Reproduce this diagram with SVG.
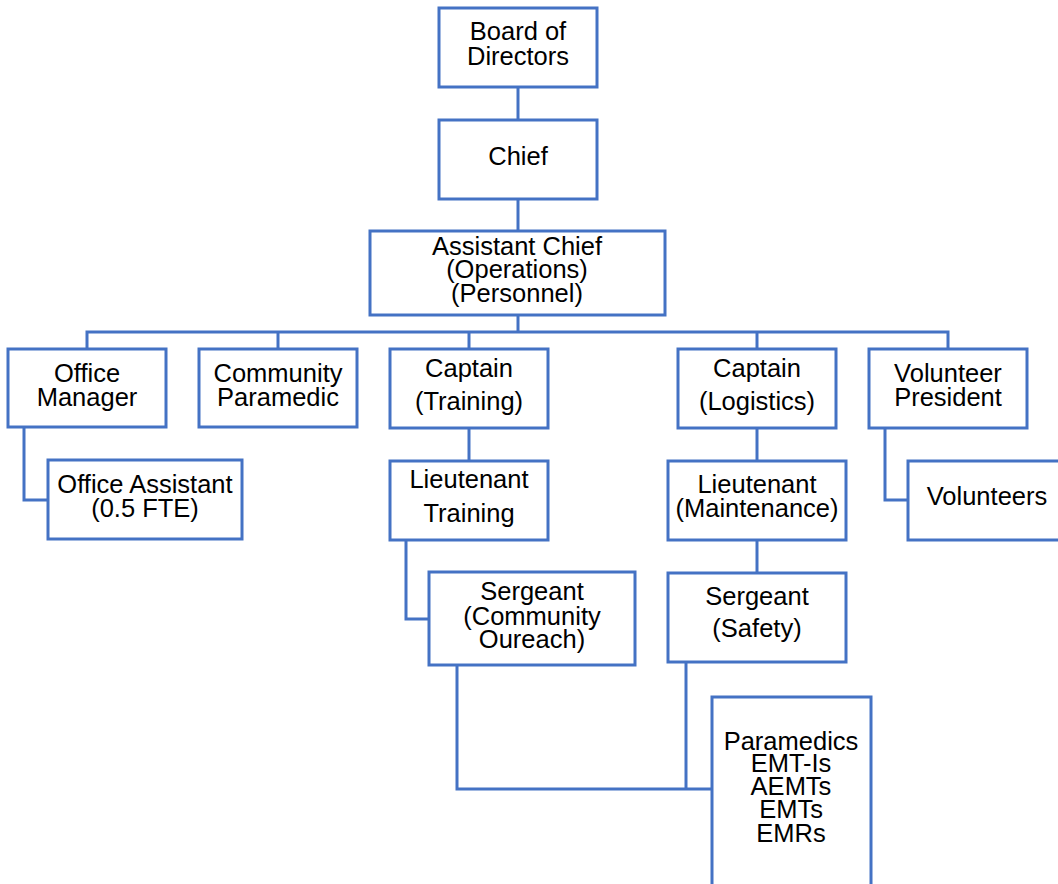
<svg xmlns="http://www.w3.org/2000/svg" width="1058" height="884" viewBox="0 0 1058 884">
<style>
.box{fill:#fff;stroke:#4472C4;stroke-width:3}
.ln{fill:none;stroke:#4472C4;stroke-width:3}
text{font-family:"Liberation Sans",Arial,Helvetica,sans-serif;font-size:25.5px;fill:#000;text-anchor:middle}
</style>
<rect width="1058" height="884" fill="#fff"/>
<g id="connectors">
<path class="ln" d="M518 87V120"/>
<path class="ln" d="M518 199V231"/>
<path class="ln" d="M518 315V332"/>
<path class="ln" d="M87 349V332H948V349"/>
<path class="ln" d="M278 332V349"/>
<path class="ln" d="M469 332V349"/>
<path class="ln" d="M757 332V349"/>
<path class="ln" d="M24 427V500H48"/>
<path class="ln" d="M469 428V461"/>
<path class="ln" d="M406 540V619H429"/>
<path class="ln" d="M757 428V461"/>
<path class="ln" d="M757 540V573"/>
<path class="ln" d="M885 428V500H908"/>
<path class="ln" d="M457 665V789H712"/>
<path class="ln" d="M686 662V789"/>
</g>
<g id="board"><rect class="box" x="439" y="8" width="158" height="79"/><text><tspan x="518" y="40">Board of</tspan><tspan x="518" y="65">Directors</tspan></text></g>
<g id="chief"><rect class="box" x="439" y="120" width="158" height="79"/><text x="518" y="165">Chief</text></g>
<g id="assistant-chief"><rect class="box" x="370" y="231" width="295" height="84"/><text><tspan x="517" y="255">Assistant Chief</tspan><tspan x="517" y="278">(Operations)</tspan><tspan x="517" y="302">(Personnel)</tspan></text></g>
<g id="office-manager"><rect class="box" x="8" y="349" width="158" height="78"/><text><tspan x="87" y="382">Office</tspan><tspan x="87" y="406">Manager</tspan></text></g>
<g id="community-paramedic"><rect class="box" x="199" y="349" width="158" height="78"/><text><tspan x="278" y="382">Community</tspan><tspan x="278" y="406">Paramedic</tspan></text></g>
<g id="office-assistant"><rect class="box" x="48" y="460" width="194" height="79"/><text><tspan x="145" y="493">Office Assistant</tspan><tspan x="145" y="517">(0.5 FTE)</tspan></text></g>
<g id="captain-training"><rect class="box" x="390" y="349" width="158" height="79"/><text><tspan x="469" y="377">Captain</tspan><tspan x="469" y="410">(Training)</tspan></text></g>
<g id="lieutenant-training"><rect class="box" x="390" y="461" width="158" height="79"/><text><tspan x="469" y="488">Lieutenant</tspan><tspan x="469" y="522">Training</tspan></text></g>
<g id="sergeant-community"><rect class="box" x="429" y="572" width="206" height="93"/><text><tspan x="532" y="600">Sergeant</tspan><tspan x="532" y="625">(Community</tspan><tspan x="532" y="648">Oureach)</tspan></text></g>
<g id="captain-logistics"><rect class="box" x="678" y="349" width="158" height="79"/><text><tspan x="757" y="377">Captain</tspan><tspan x="757" y="410">(Logistics)</tspan></text></g>
<g id="lieutenant-maintenance"><rect class="box" x="668" y="461" width="178" height="79"/><text><tspan x="757" y="493">Lieutenant</tspan><tspan x="757" y="517">(Maintenance)</tspan></text></g>
<g id="sergeant-safety"><rect class="box" x="668" y="573" width="178" height="89"/><text><tspan x="757" y="605">Sergeant</tspan><tspan x="757" y="637">(Safety)</tspan></text></g>
<g id="volunteer-president"><rect class="box" x="869" y="349" width="158" height="79"/><text><tspan x="948" y="382">Volunteer</tspan><tspan x="948" y="406">President</tspan></text></g>
<g id="volunteers"><rect class="box" x="908" y="461" width="160" height="79"/><text x="987" y="505">Volunteers</text></g>
<g id="paramedics"><rect class="box" x="712" y="697" width="159" height="200"/><text><tspan x="791" y="750">Paramedics</tspan><tspan x="791" y="772">EMT-Is</tspan><tspan x="791" y="795">AEMTs</tspan><tspan x="791" y="818">EMTs</tspan><tspan x="791" y="842">EMRs</tspan></text></g>
</svg>
